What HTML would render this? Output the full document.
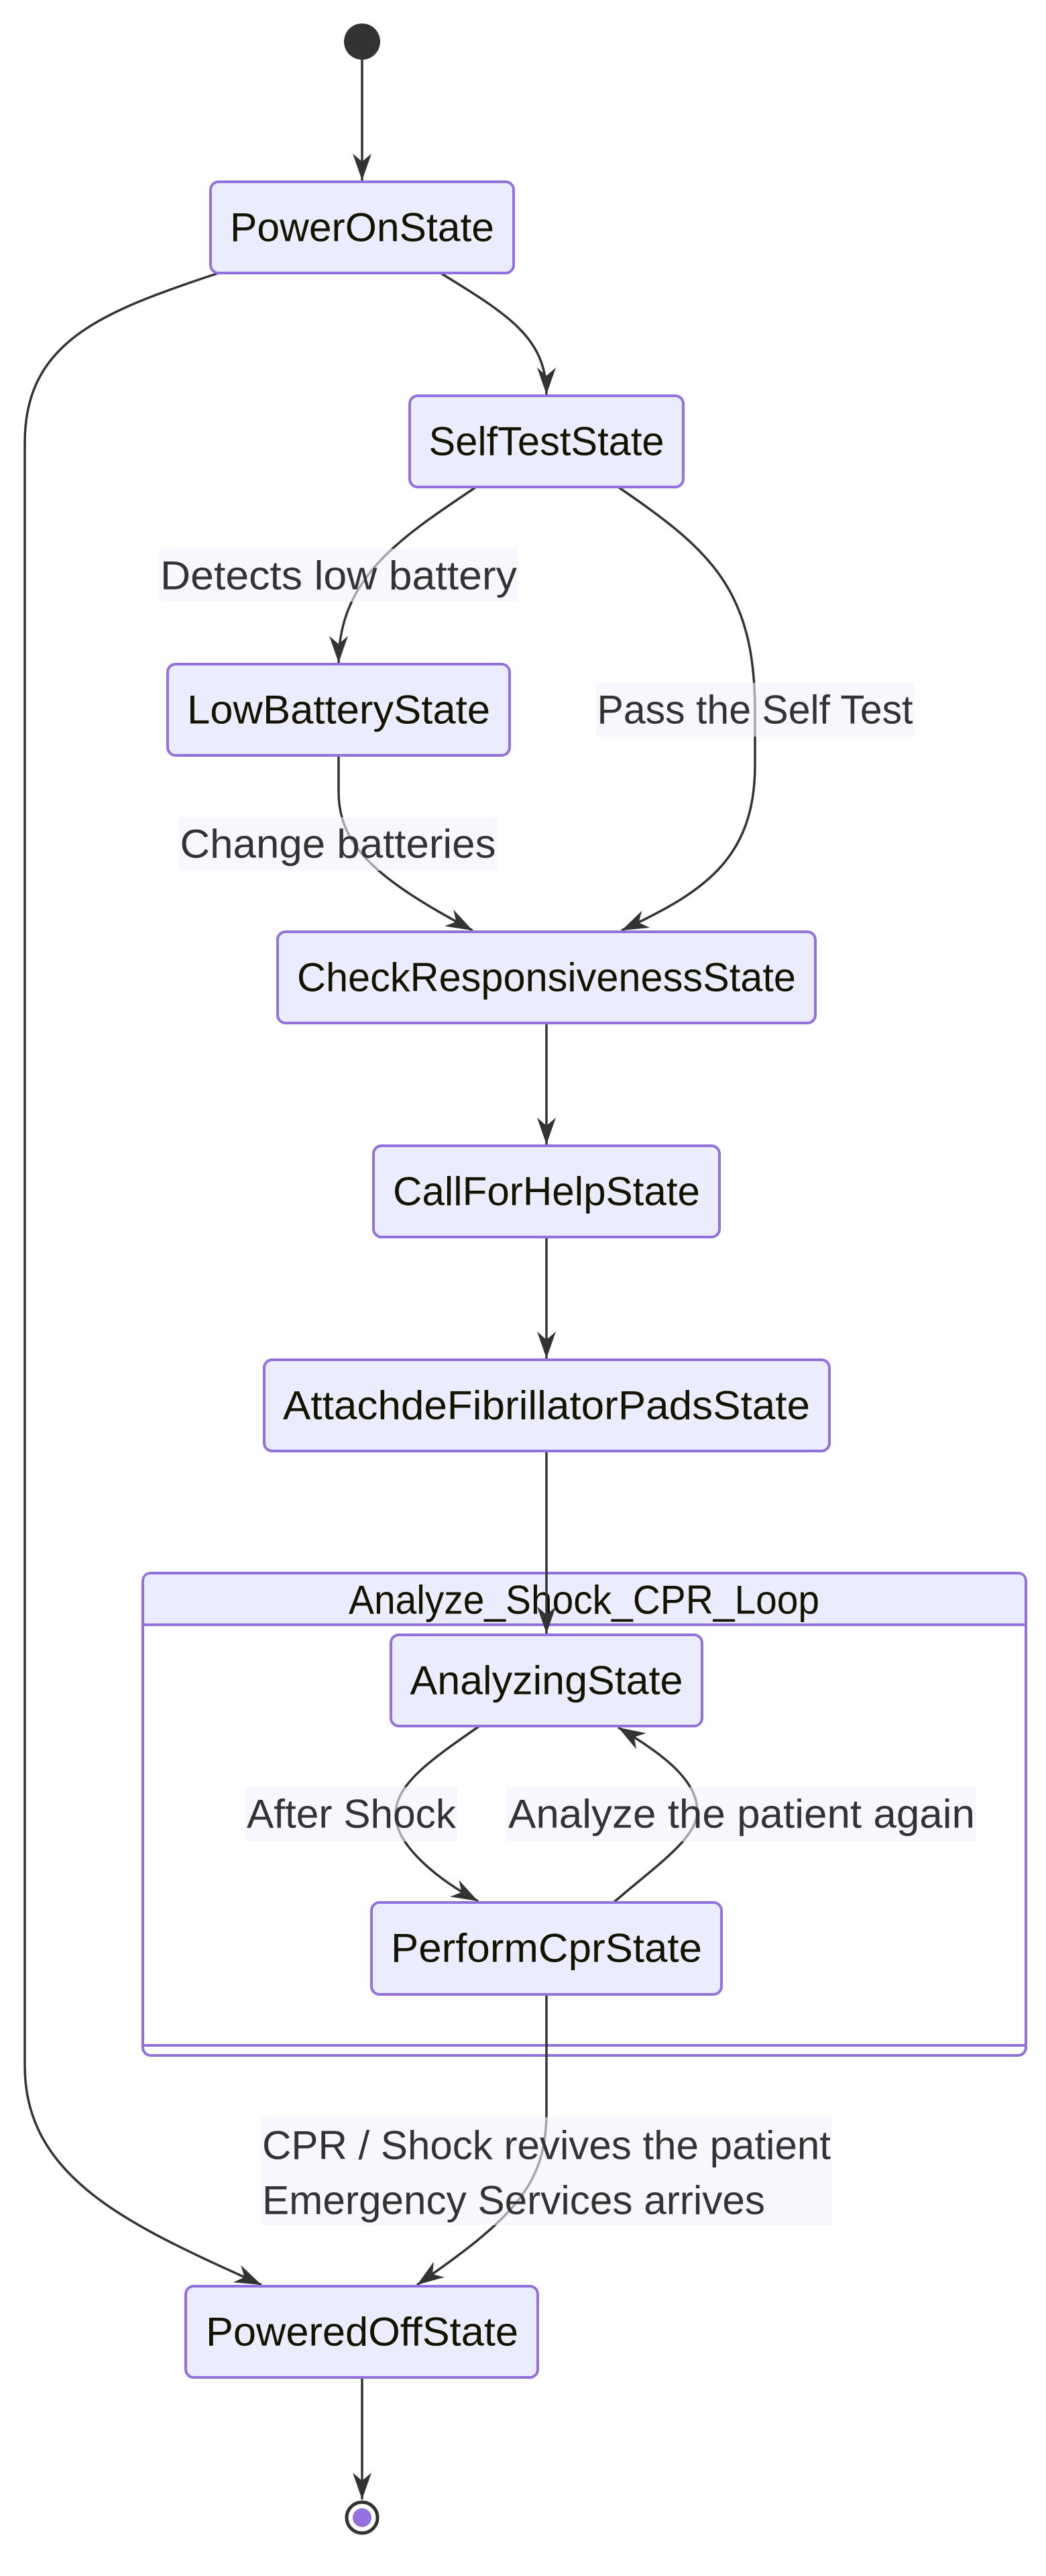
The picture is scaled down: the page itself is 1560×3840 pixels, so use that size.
<!DOCTYPE html>
<html><head><meta charset="utf-8"><style>
html,body{margin:0;padding:0;background:#fff;}
svg{display:block;}
text{font-family:"Liberation Sans",sans-serif;font-size:60px;}
.n{fill:#ececff;stroke:#9370db;stroke-width:4;}
.e{fill:none;stroke:#333;stroke-width:3.5;}
.l{fill:#f1f1fc;fill-opacity:0.6;}
.t{fill:#131300;}
.lt{fill:#333;}
</style></head><body>
<svg width="1560" height="3840" viewBox="0 0 1560 3840" xmlns="http://www.w3.org/2000/svg">
<defs>
<marker id="a" markerUnits="userSpaceOnUse" markerWidth="44" markerHeight="40" refX="40" refY="20" orient="auto" style="overflow:visible">
<path d="M40,20 L0,6 L12,20 L0,34 z" fill="#333"/>
</marker>
</defs>
<!-- cluster -->
<rect x="213" y="2345" width="1317" height="719" rx="12" fill="#fff" stroke="#9370db" stroke-width="4"/>
<path d="M215,2422 L215,2357 Q215,2347 225,2347 L1518,2347 Q1528,2347 1528,2357 L1528,2422 Z" fill="#ececff"/>
<line x1="213" y1="2422" x2="1530" y2="2422" stroke="#9370db" stroke-width="4"/>
<line x1="213" y1="3049" x2="1530" y2="3049" stroke="#9370db" stroke-width="4"/>
<text class="t" x="871" y="2385" text-anchor="middle" dominant-baseline="central" textLength="702" lengthAdjust="spacingAndGlyphs">Analyze_Shock_CPR_Loop</text>

<!-- start -->
<circle cx="540" cy="62" r="27" fill="#333"/>

<!-- edges -->
<path class="e" d="M540,89 L540,269" marker-end="url(#a)"/>
<path class="e" d="M657,407 C760,470 815,505 815,588" marker-end="url(#a)"/>
<path class="e" d="M326,407 C150,465 37,510 37,660 L37,3080 C37,3250 200,3320 390,3406" marker-end="url(#a)"/>
<path class="e" d="M710,726 C600,800 505,860 505,988" marker-end="url(#a)"/>
<path class="e" d="M922,726 C1060,820 1126,880 1126,1060 L1126,1140 C1126,1280 1050,1330 927,1387" marker-end="url(#a)"/>
<path class="e" d="M505,1126 L505,1180 C505,1260 560,1310 705,1387" marker-end="url(#a)"/>
<path class="e" d="M815,1525 L815,1706" marker-end="url(#a)"/>
<path class="e" d="M815,1844 L815,2025" marker-end="url(#a)"/>
<path class="e" d="M815,2163 L815,2435" marker-end="url(#a)"/>
<path class="e" d="M715,2573 C640,2625 590,2660 590,2705 C590,2750 650,2800 713,2834" marker-end="url(#a)"/>
<path class="e" d="M915,2836 C980,2780 1040,2740 1040,2700 C1040,2650 980,2610 922,2575" marker-end="url(#a)"/>
<path class="e" d="M815,2973 L815,3150 C815,3260 760,3310 622,3406" marker-end="url(#a)"/>
<path class="e" d="M540,3544 L540,3726" marker-end="url(#a)"/>

<!-- labels -->
<rect class="l" x="237" y="818" width="535" height="79"/>
<text class="lt" x="505" y="858" text-anchor="middle" dominant-baseline="central" textLength="532" lengthAdjust="spacingAndGlyphs">Detects low battery</text>
<rect class="l" x="889" y="1018" width="474" height="80"/>
<text class="lt" x="1126" y="1058" text-anchor="middle" dominant-baseline="central" textLength="471" lengthAdjust="spacingAndGlyphs">Pass the Self Test</text>
<rect class="l" x="267" y="1218" width="474" height="80"/>
<text class="lt" x="504" y="1258" text-anchor="middle" dominant-baseline="central" textLength="471" lengthAdjust="spacingAndGlyphs">Change batteries</text>
<rect class="l" x="366" y="2664" width="316" height="81"/>
<text class="lt" x="524" y="2704" text-anchor="middle" dominant-baseline="central" textLength="312" lengthAdjust="spacingAndGlyphs">After Shock</text>
<rect class="l" x="756" y="2664" width="700" height="81"/>
<text class="lt" x="1106" y="2704" text-anchor="middle" dominant-baseline="central" textLength="696" lengthAdjust="spacingAndGlyphs">Analyze the patient again</text>
<rect class="l" x="389" y="3156" width="852" height="161"/>
<text class="lt" x="391" y="3198" dominant-baseline="central" textLength="848" lengthAdjust="spacingAndGlyphs">CPR / Shock revives the patient</text>
<text class="lt" x="391" y="3280" dominant-baseline="central" textLength="750" lengthAdjust="spacingAndGlyphs">Emergency Services arrives</text>

<!-- nodes -->
<rect class="n" x="314" y="271" width="452" height="136" rx="12"/>
<text class="t" x="540" y="339" text-anchor="middle" dominant-baseline="central" textLength="394" lengthAdjust="spacingAndGlyphs">PowerOnState</text>
<rect class="n" x="611" y="590" width="408" height="136" rx="12"/>
<text class="t" x="815" y="658" text-anchor="middle" dominant-baseline="central" textLength="351" lengthAdjust="spacingAndGlyphs">SelfTestState</text>
<rect class="n" x="250" y="990" width="510" height="136" rx="12"/>
<text class="t" x="505" y="1058" text-anchor="middle" dominant-baseline="central" textLength="452" lengthAdjust="spacingAndGlyphs">LowBatteryState</text>
<rect class="n" x="414" y="1389" width="802" height="136" rx="12"/>
<text class="t" x="815" y="1457" text-anchor="middle" dominant-baseline="central" textLength="744" lengthAdjust="spacingAndGlyphs">CheckResponsivenessState</text>
<rect class="n" x="557" y="1708" width="516" height="136" rx="12"/>
<text class="t" x="815" y="1776" text-anchor="middle" dominant-baseline="central" textLength="458" lengthAdjust="spacingAndGlyphs">CallForHelpState</text>
<rect class="n" x="394" y="2027" width="843" height="136" rx="12"/>
<text class="t" x="815" y="2095" text-anchor="middle" dominant-baseline="central" textLength="786" lengthAdjust="spacingAndGlyphs">AttachdeFibrillatorPadsState</text>
<rect class="n" x="583" y="2437" width="464" height="136" rx="12"/>
<text class="t" x="815" y="2505" text-anchor="middle" dominant-baseline="central" textLength="407" lengthAdjust="spacingAndGlyphs">AnalyzingState</text>
<rect class="n" x="554" y="2836" width="522" height="137" rx="12"/>
<text class="t" x="815" y="2904" text-anchor="middle" dominant-baseline="central" textLength="464" lengthAdjust="spacingAndGlyphs">PerformCprState</text>
<rect class="n" x="277" y="3408" width="525" height="136" rx="12"/>
<text class="t" x="540" y="3476" text-anchor="middle" dominant-baseline="central" textLength="466" lengthAdjust="spacingAndGlyphs">PoweredOffState</text>

<!-- end -->
<circle cx="540" cy="3753" r="23" fill="#fff" stroke="#333" stroke-width="5"/>
<circle cx="540" cy="3753" r="14" fill="#9370db"/>
</svg>
</body></html>
